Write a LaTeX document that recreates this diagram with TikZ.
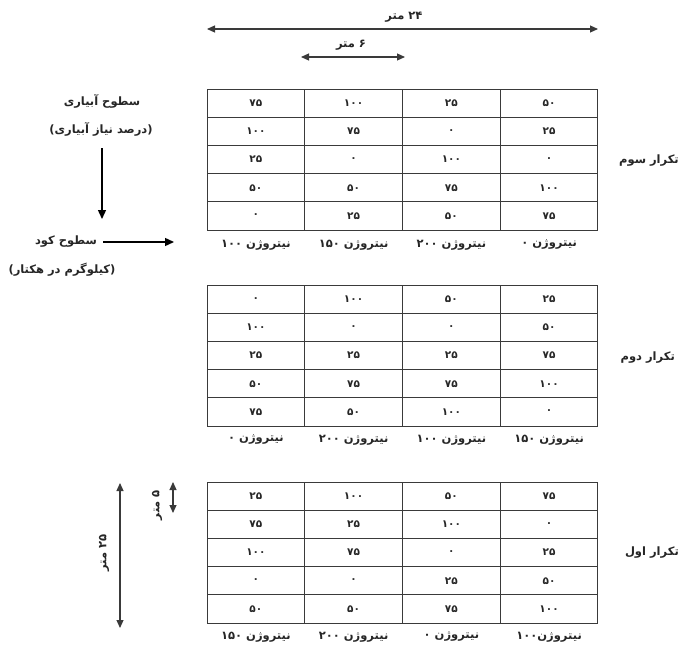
\documentclass[tikz,border=0pt]{standalone}
\usepackage{fontspec}
\usetikzlibrary{arrows.meta}
\TeXXeTstate=1
\newfontfamily\arabicfont[Script=Arabic]{DejaVu Sans}
\newfontfamily\arabicbold[Script=Arabic]{DejaVu Sans Bold}
\definecolor{linec}{HTML}{3A3A3A}
\definecolor{txt}{HTML}{262626}
\tikzset{
  cell/.style={draw=linec, line width=1pt, minimum width=97.75pt, minimum height=28.2pt, inner sep=0pt, font=\arabicbold\fontsize{10.5}{12}\selectfont, text=txt},
  lab/.style={font=\arabicbold\fontsize{11.5}{13}\selectfont, text=txt, inner sep=1pt},
  dim/.style={draw=linec, line width=1.1pt, {Triangle[length=8pt,width=7pt]}-{Triangle[length=8pt,width=7pt]}},
  arr/.style={draw=black, line width=1.4pt, -{Triangle[length=9pt,width=8pt]}}
}
\newcommand{\myrow}[7]{%
  \node[cell] (#1-#2-1) at (255.9,#3) {#4};
  \node[cell] (#1-#2-2) at (353.6,#3) {#5};
  \node[cell] (#1-#2-3) at (451.4,#3) {#6};
  \node[cell] (#1-#2-4) at (549.1,#3) {#7};
}
\newcommand{\mylabs}[6]{%
  \node[lab] (#1-n1) at (255.9,#2) {#3};
  \node[lab] (#1-n2) at (353.6,#2) {#4};
  \node[lab] (#1-n3) at (451.4,#2) {#5};
  \node[lab] (#1-n4) at (549.1,#2) {#6};
}
\begin{document}
\begin{tikzpicture}[x=1pt,y=-1pt]
\useasboundingbox (0,0) rectangle (680,645);
\fill[white] (0,0) rectangle (680,645);

% dimension arrows (top)
\coordinate (w24a) at (207,29);
\coordinate (w24b) at (598,29);
\draw[dim] (w24a) -- (w24b);
\node[lab] (l24) at (404,17) {\beginR ۲۴ متر\endR};
\coordinate (w6a) at (301,57);
\coordinate (w6b) at (405,57);
\draw[dim] (w6a) -- (w6b);
\node[lab] (l6) at (351,45) {\beginR ۶ متر\endR};

% left labels
\node[lab] (irr1) at (102,101) {\beginR سطوح آبیاری\endR};
\node[lab] (irr2) at (101,129) {\beginR (درصد نیاز آبیاری)\endR};
\coordinate (irrA) at (102,148);
\coordinate (irrB) at (102,219);
\draw[arr] (irrA) -- (irrB);
\node[lab] (fer1) at (66,242) {\beginR سطوح کود\endR};
\coordinate (ferA) at (103,242);
\coordinate (ferB) at (174,242);
\draw[arr] (ferA) -- (ferB);
\node[lab] (fer2) at (62,270) {\beginR (کیلوگرم در هکتار)\endR};

% table A (third repetition)
\myrow{A}{1}{103.1}{۷۵}{۱۰۰}{۲۵}{۵۰}
\myrow{A}{2}{131.3}{۱۰۰}{۷۵}{۰}{۲۵}
\myrow{A}{3}{159.5}{۲۵}{۰}{۱۰۰}{۰}
\myrow{A}{4}{187.7}{۵۰}{۵۰}{۷۵}{۱۰۰}
\myrow{A}{5}{215.9}{۰}{۲۵}{۵۰}{۷۵}
\mylabs{A}{245}{\beginR نیتروژن ۱۰۰\endR}{\beginR نیتروژن ۱۵۰\endR}{\beginR نیتروژن ۲۰۰\endR}{\beginR نیتروژن ۰\endR}
\node[lab, anchor=east] (rep3) at (680,161) {\beginR تکرار سوم\endR};

% table B (second repetition)
\myrow{B}{1}{299.1}{۰}{۱۰۰}{۵۰}{۲۵}
\myrow{B}{2}{327.3}{۱۰۰}{۰}{۰}{۵۰}
\myrow{B}{3}{355.5}{۲۵}{۲۵}{۲۵}{۷۵}
\myrow{B}{4}{383.7}{۵۰}{۷۵}{۷۵}{۱۰۰}
\myrow{B}{5}{411.9}{۷۵}{۵۰}{۱۰۰}{۰}
\mylabs{B}{440}{\beginR نیتروژن ۰\endR}{\beginR نیتروژن ۲۰۰\endR}{\beginR نیتروژن ۱۰۰\endR}{\beginR نیتروژن ۱۵۰\endR}
\node[lab, anchor=east] (rep2) at (676,358) {\beginR تکرار دوم\endR};

% table C (first repetition)
\myrow{C}{1}{496.1}{۲۵}{۱۰۰}{۵۰}{۷۵}
\myrow{C}{2}{524.3}{۷۵}{۲۵}{۱۰۰}{۰}
\myrow{C}{3}{552.5}{۱۰۰}{۷۵}{۰}{۲۵}
\myrow{C}{4}{580.7}{۰}{۰}{۲۵}{۵۰}
\myrow{C}{5}{608.9}{۵۰}{۵۰}{۷۵}{۱۰۰}
\mylabs{C}{637}{\beginR نیتروژن ۱۵۰\endR}{\beginR نیتروژن ۲۰۰\endR}{\beginR نیتروژن ۰\endR}{\beginR نیتروژن۱۰۰\endR}
\node[lab, anchor=east] (rep1) at (680,553) {\beginR تکرار اول\endR};

% vertical dimension arrows
\coordinate (h25a) at (120,483);
\coordinate (h25b) at (120,628);
\draw[dim] (h25a) -- (h25b);
\node[lab, rotate=90] (l25) at (104,553) {\beginR ۲۵ متر\endR};
\coordinate (h5a) at (173,482);
\coordinate (h5b) at (173,513);
\draw[dim] (h5a) -- (h5b);
\node[lab, rotate=90] (l5) at (157,505) {\beginR ۵ متر\endR};
\end{tikzpicture}
\end{document}
